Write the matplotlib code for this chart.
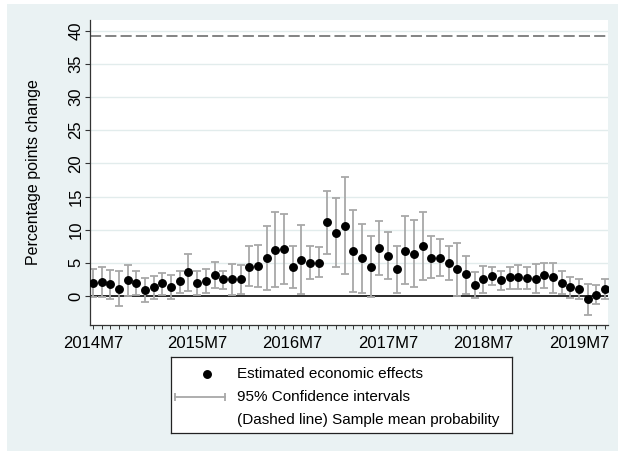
import matplotlib
matplotlib.use("Agg")
import matplotlib.pyplot as plt
from matplotlib.patches import Rectangle
import numpy as np

plt.rcParams['font.family'] = ['Liberation Sans', 'DejaVu Sans']
plt.rcParams['lines.scale_dashes'] = False

# Monthly point estimates and 95% confidence bounds (percentage points)
estimates = [2.0, 2.1, 1.8, 1.0, 2.4, 2.0, 0.9, 1.3, 1.9, 1.3, 2.2, 3.6, 2.0, 2.2, 3.1,
             2.5, 2.5, 2.5, 4.4, 4.5, 5.8, 7.0, 7.1, 4.3, 5.5, 5.0, 5.0, 11.1, 9.5, 10.6,
             6.75, 5.7, 4.4, 7.3, 6.1, 4.1, 6.85, 6.3, 7.6, 5.8, 5.8, 5.0, 4.0, 3.3, 1.6,
             2.5, 3.0, 2.4, 2.8, 2.8, 2.7, 2.6, 3.1, 2.8, 2.0, 1.35, 1.0, -0.5, 0.2, 1.0]
ci_upper = [4.1, 4.3, 3.9, 3.7, 4.6, 3.8, 2.7, 3.0, 3.5, 3.1, 3.8, 6.4, 3.8, 4.0, 5.1,
            3.8, 4.8, 4.7, 7.5, 7.7, 10.6, 12.6, 12.4, 7.5, 10.7, 7.6, 7.4, 15.8, 14.8, 18.0,
            13.0, 10.9, 9.0, 11.3, 9.6, 7.6, 12.0, 11.5, 12.7, 9.0, 8.6, 7.5, 8.0, 6.1, 3.6,
            4.5, 4.3, 3.8, 4.4, 4.6, 4.3, 4.8, 5.0, 5.0, 3.7, 2.9, 2.6, 1.8, 1.65, 2.6]
ci_lower = [-0.1, -0.2, -0.4, -1.5, 0.0, 0.1, -0.9, -0.45, 0.15, -0.5, 0.4, 0.75, 0.15, 0.4, 1.2,
            1.05, 0.15, 0.3, 1.5, 1.4, 0.95, 1.3, 1.8, 1.2, 0.25, 2.5, 2.8, 6.35, 4.3, 3.3,
            0.6, 0.45, -0.1, 3.2, 2.5, 0.45, 1.8, 1.3, 2.4, 2.7, 3.0, 2.4, 0.05, 0.35, -0.35,
            0.5, 1.6, 0.85, 1.1, 1.05, 1.1, 0.4, 1.15, 0.5, 0.25, -0.25, -0.45, -2.9, -1.2, -0.5]
period_labels = ["2014M7", "2015M7", "2016M7", "2017M7", "2018M7", "2019M7"]
period_positions = [0, 12, 23, 34, 45, 56]
sample_mean = 39.2
legend_labels = ["Estimated economic effects", "95% Confidence intervals",
                 "(Dashed line) Sample mean probability"]

W, H = 618, 451
fig = plt.figure(figsize=(W / 100, H / 100), dpi=100)
fig.patch.set_facecolor('white')
bg = '#eaf2f3'
fig.add_artist(Rectangle((7 / W, 0), 1, 1 - 4 / H, transform=fig.transFigure,
                         facecolor=bg, edgecolor='none', zorder=-10))

ax = fig.add_axes([90 / W, 1 - 325 / H, (608 - 90) / W, (325 - 20) / H])
ax.set_facecolor('white')

x = np.arange(len(estimates))
est = np.array(estimates)
lo = np.array(ci_lower)
hi = np.array(ci_upper)

ax.set_xlim(-0.35, len(x) - 1 + 0.35)
ax.set_ylim(-4.37, 41.61)

# horizontal grid
for yv in range(5, 41, 5):
    ax.axhline(yv, color='#e2ecec', lw=1.0, zorder=0)

ax.axhline(0, color='#1a1a1a', lw=1.3, zorder=1)
ax.axhline(sample_mean, color='#6e6e6e', lw=1.2, dashes=(8, 3), zorder=1)

ax.errorbar(x, est, yerr=[est - lo, hi - est], fmt='none', ecolor='#a8a8a8',
            elinewidth=1.3, capsize=3.2, capthick=1.3, zorder=2)
ax.plot(x, est, 'o', color='black', ms=5.4, zorder=3)

for side in ['top', 'right']:
    ax.spines[side].set_visible(False)
for side in ['left', 'bottom']:
    ax.spines[side].set_color('#333333')
    ax.spines[side].set_linewidth(0.9)

ax.set_yticks(range(0, 41, 5))
ax.set_yticklabels([str(v) for v in range(0, 41, 5)], rotation=90, va='center')
ax.tick_params(axis='y', length=3.6, width=0.8, color='#333333', labelsize=12, pad=1)

ax.set_xticks(period_positions)
ax.set_xticklabels(period_labels)
ax.set_xticks(x, minor=True)
ax.tick_params(axis='x', which='both', length=3, width=0.7, color='#333333',
               labelsize=12, pad=5)

ax.set_ylabel("Percentage points change", fontsize=11.5, labelpad=20)

# legend panel
lax = fig.add_axes([171 / W, 1 - 433 / H, (512 - 171) / W, (433 - 357) / H])
lax.set_xlim(171, 512)
lax.set_ylim(433, 357)
lax.set_xticks([])
lax.set_yticks([])
lax.set_facecolor('white')
for s in lax.spines.values():
    s.set_color('#222222')
    s.set_linewidth(0.9)
rows = [374, 397, 420]
lax.plot([207], [rows[0]], 'o', color='black', ms=5.4)
lax.plot([175, 225], [rows[1], rows[1]], color='#a8a8a8', lw=1.3)
lax.plot([175, 225], [rows[1], rows[1]], '|', color='#a8a8a8', ms=6, mew=1.3)
for r, t in zip(rows, legend_labels):
    lax.text(237, r, t, fontsize=11, va='center', ha='left')

fig.savefig("out.png", dpi=100)
